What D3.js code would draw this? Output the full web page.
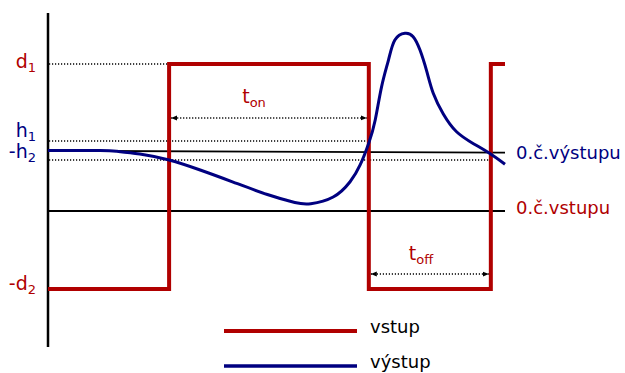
<!DOCTYPE html>
<html>
<head>
<meta charset="utf-8">
<script src="https://cdn.jsdelivr.net/npm/d3@7"></script>
<style>
body { margin: 0; background: #fff; }
text { font-family: "DejaVu Sans", sans-serif; }
</style>
</head>
<body>
<script>
var w = 625;
var h = 373;
var red = "#b00000";
var blue = "#000080";

// input square wave (time, level)
var inputT = [0, 26.5, 26.5, 70.2, 70.2, 96.9, 96.9, 100];
var inputV = [-0.53, -0.53, 1, 1, -0.53, -0.53, 1, 1];

// output response
var outputT = [0, 11.4, 15.1, 20.1, 26.5, 33.3, 40.5, 48.0, 54.0, 57.5, 62.4, 66.1, 68.3, 70.2,
  71.6, 73.0, 74.5, 75.9, 78.1, 79.9, 81.4, 82.9, 84.3, 86.5, 89.4, 93.1, 96.7, 100];
var outputV = [0.412, 0.411, 0.406, 0.388, 0.347, 0.279, 0.197, 0.112, 0.058, 0.050, 0.095, 0.199, 0.313, 0.463,
  0.619, 0.846, 1.027, 1.163, 1.209, 1.186, 1.095, 0.948, 0.801, 0.660, 0.539, 0.458, 0.391, 0.318];

// levels
var d1 = 1, h1 = 0.476, h2neg = 0.347, d2neg = -0.53;
var inZero = 0;
var outZero = [0.41, 0.397];
var tOn = [26.5, 70.2], tOnLevel = 0.633;
var tOff = [70.2, 96.9], tOffLevel = -0.429;
var axisRange = [-0.925, 1.347];

var x = d3.scaleLinear().domain([0, 100]).range([48, 505]);
var y = d3.scaleLinear().domain([0, 1]).range([211, 64]);

var svg = d3.select("body")
.append("svg")
.attr("width", w)
.attr("height", h);

var defs = svg.append("defs");
defs.append("marker")
.attr("id", "arr")
.attr("markerUnits", "userSpaceOnUse")
.attr("markerWidth", 8)
.attr("markerHeight", 8)
.attr("refX", 6)
.attr("refY", 3)
.attr("orient", "auto-start-reverse")
.append("path")
.attr("d", "M0,0.5 L6,3 L0,5.5 Z")
.attr("fill", "#000");

// vertical axis
svg.append("line")
.attr("x1", x(0)).attr("x2", x(0))
.attr("y1", y(axisRange[1])).attr("y2", y(axisRange[0]))
.attr("stroke", "#000").attr("stroke-width", 2.5);

// zero lines
svg.append("line")
.attr("x1", x(0)).attr("x2", x(100))
.attr("y1", y(outZero[0])).attr("y2", y(outZero[1]))
.attr("stroke", "#000").attr("stroke-width", 1.8);
svg.append("line")
.attr("x1", x(0)).attr("x2", x(100))
.attr("y1", y(inZero)).attr("y2", y(inZero))
.attr("stroke", "#000").attr("stroke-width", 1.8);

// dotted level lines
var dotted = [[d1, 26.5], [h1, 70.2], [h2neg, 96.9]];
svg.selectAll("line.dot")
.data(dotted)
.enter()
.append("line")
.attr("class", "dot")
.attr("x1", x(0) + 1)
.attr("x2", function(d) { return x(d[1]); })
.attr("y1", function(d) { return y(d[0]); })
.attr("y2", function(d) { return y(d[0]); })
.attr("stroke", "#000")
.attr("stroke-width", 1.5)
.attr("stroke-dasharray", "1.2,1.8");

// t_on / t_off arrows
[[tOn, tOnLevel], [tOff, tOffLevel]].forEach(function(a) {
  svg.append("line")
  .attr("x1", x(a[0][0]) + 2).attr("x2", x(a[0][1]) - 2)
  .attr("y1", y(a[1])).attr("y2", y(a[1]))
  .attr("stroke", "#000")
  .attr("stroke-width", 1.5)
  .attr("stroke-dasharray", "1.2,1.8")
  .attr("marker-start", "url(#arr)")
  .attr("marker-end", "url(#arr)");
});

// input wave
var inputLine = d3.line()
.x(function(d, i) { return x(inputT[i]); })
.y(function(d) { return y(d); });
svg.append("path")
.attr("d", inputLine(inputV))
.attr("fill", "none")
.attr("stroke", red)
.attr("stroke-width", 4);

// output curve
var outputLine = d3.line()
.x(function(d, i) { return x(outputT[i]); })
.y(function(d) { return y(d); })
.curve(d3.curveNatural);
svg.append("path")
.attr("d", outputLine(outputV))
.attr("fill", "none")
.attr("stroke", blue)
.attr("stroke-width", 3);

function label(px, py, main, sub, color, anchor, size) {
  var t = svg.append("text")
  .attr("x", px).attr("y", py)
  .attr("fill", color)
  .attr("font-size", size + "px")
  .attr("text-anchor", anchor);
  t.append("tspan").text(main);
  if (sub) {
    t.append("tspan").attr("font-size", "13px").attr("dy", 4).text(sub);
  }
}

label(36, y(d1) + 4, "d", "1", red, "end", 19);
label(36, y(h1) - 4, "h", "1", blue, "end", 19);
label(36, y(h2neg) - 2, "-h", "2", blue, "end", 19);
label(36, y(d2neg) + 1, "-d", "2", red, "end", 19);
label(254, 103, "t", "on", red, "middle", 19);
label(421, 260, "t", "off", red, "middle", 19);
label(516, y(outZero[1]) + 6, "0.č.výstupu", null, blue, "start", 18);
label(516, y(inZero) + 3, "0.č.vstupu", null, red, "start", 18);

// legend
var legend = [["vstup", red, 331], ["výstup", blue, 366]];
legend.forEach(function(l) {
  svg.append("line")
  .attr("x1", 224).attr("x2", 357)
  .attr("y1", l[2]).attr("y2", l[2])
  .attr("stroke", l[1])
  .attr("stroke-width", l[1] == red ? 4 : 3.5);
  svg.append("text")
  .attr("x", 370).attr("y", l[2] + 2)
  .attr("font-size", "18px")
  .attr("fill", "#000")
  .text(l[0]);
});
</script>
</body>
</html>
